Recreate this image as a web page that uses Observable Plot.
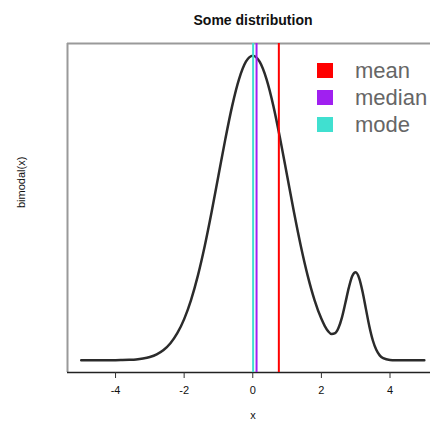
<!DOCTYPE html>
<html>
<head>
<meta charset="utf-8">
<script src="https://cdn.jsdelivr.net/npm/d3@7"></script>
<script src="https://cdn.jsdelivr.net/npm/@observablehq/plot@0.6"></script>
<style>
  html, body { margin: 0; padding: 0; background: #fff; overflow: hidden; }
  #wrap { position: relative; width: 430px; height: 425px; font-family: "Liberation Sans", Arial, Helvetica, sans-serif; }
  #legend { position: absolute; left: 317px; top: 57px; }
  .row { display: flex; align-items: center; height: 27px; }
  .sw { width: 16px; height: 15px; margin-right: 22px; }
  .lab { font-size: 22px; color: #666; line-height: 27px; }
</style>
</head>
<body>
<div id="wrap"></div>
<script>
// Data
const xs = [-5.0,-4.8,-4.6,-4.4,-4.2,-4.0,-3.8,-3.6,-3.4,-3.2,-3.0,-2.8,-2.6,-2.4,-2.2,-2.0,-1.8,-1.6,-1.4,-1.2,-1.0,-0.8,-0.6,-0.4,-0.2,0.0,0.2,0.4,0.6,0.8,1.0,1.2,1.4,1.6,1.8,2.0,2.1,2.2,2.3,2.4,2.5,2.6,2.7,2.8,2.9,3.0,3.1,3.2,3.3,3.4,3.5,3.6,3.7,3.8,4.0,4.2,4.4,4.6,4.8,5.0];
const ys = [0,0,0,0,0.0001,0.0001,0.0003,0.0006,0.0011,0.0022,0.0040,0.0071,0.0122,0.0202,0.0320,0.0487,0.0712,0.1001,0.1351,0.1752,0.2183,0.2614,0.3007,0.3323,0.3529,0.3600,0.3529,0.3323,0.3007,0.2614,0.2183,0.1752,0.1351,0.1001,0.0712,0.0490,0.0405,0.0342,0.0310,0.0320,0.0384,0.0508,0.0680,0.0859,0.0996,0.1040,0.0971,0.0810,0.0602,0.0397,0.0234,0.0124,0.0058,0.0025,0.0004,0.0001,0,0,0,0];

const statNames = ["mean", "median", "mode"];
const statValues = [0.76, 0.11, 0.01];
const statColors = ["#ff0000", "#a020f0", "#40e0d0"];

const xTicks = [-4, -2, 0, 2, 4];
const title = "Some distribution";
const xLabel = "x";
const yLabel = "bimodal(x)";

const xDomain = [-5.4, 5.18];
const yDomain = [-0.0144, 0.3744];

const curve = xs.map((x, i) => ({x, y: ys[i]}));
const stats = statNames.map((n, i) => ({name: n, value: statValues[i], color: statColors[i]}));

const font = '"Liberation Sans", Arial, Helvetica, sans-serif';

const chart = Plot.plot({
  width: 430,
  height: 425,
  marginLeft: 67,
  marginRight: 0,
  marginTop: 43,
  marginBottom: 53,
  style: {fontFamily: font, background: "#fff", color: "#111"},
  x: {domain: xDomain, axis: null},
  y: {domain: yDomain, axis: null},
  marks: [
    // frame (right side falls outside the window)
    Plot.ruleY([yDomain[1]], {stroke: "#9a9a9a", strokeWidth: 2}),
    Plot.ruleX([xDomain[0]], {stroke: "#9a9a9a", strokeWidth: 2}),
    Plot.ruleY([yDomain[0]], {stroke: "#222", strokeWidth: 1.5}),
    Plot.axisX({ticks: xTicks, tickSize: 6, tickPadding: 8, fontSize: 11, label: null, stroke: "#333",
      tickFormat: d => (d < 0 ? "-" + Math.abs(d) : String(d))}),
    // curve
    Plot.line(curve, {x: "x", y: "y", stroke: "#2b2b2b", strokeWidth: 2.5, curve: "monotone-x"}),
    // vertical stat lines
    Plot.ruleX(stats, {x: "value", stroke: "color", strokeWidth: 2}),
    // texts
    Plot.text([title], {frameAnchor: "top", dy: -28, dx: 4, fontSize: 14, fontWeight: "bold", fill: "#111"}),
    Plot.text([xLabel], {frameAnchor: "bottom", dy: 46, dx: 4, fontSize: 11, fill: "#111"}),
    Plot.text([yLabel], {frameAnchor: "left", dx: -46, rotate: -90, fontSize: 11, fill: "#111"})
  ]
});

const wrap = document.getElementById("wrap");
wrap.appendChild(chart);

const legend = document.createElement("div");
legend.id = "legend";
stats.forEach(s => {
  const row = document.createElement("div");
  row.className = "row";
  const sw = document.createElement("div");
  sw.className = "sw";
  sw.style.background = s.color;
  const lab = document.createElement("span");
  lab.className = "lab";
  lab.textContent = s.name;
  row.appendChild(sw);
  row.appendChild(lab);
  legend.appendChild(row);
});
wrap.appendChild(legend);
</script>
</body>
</html>
